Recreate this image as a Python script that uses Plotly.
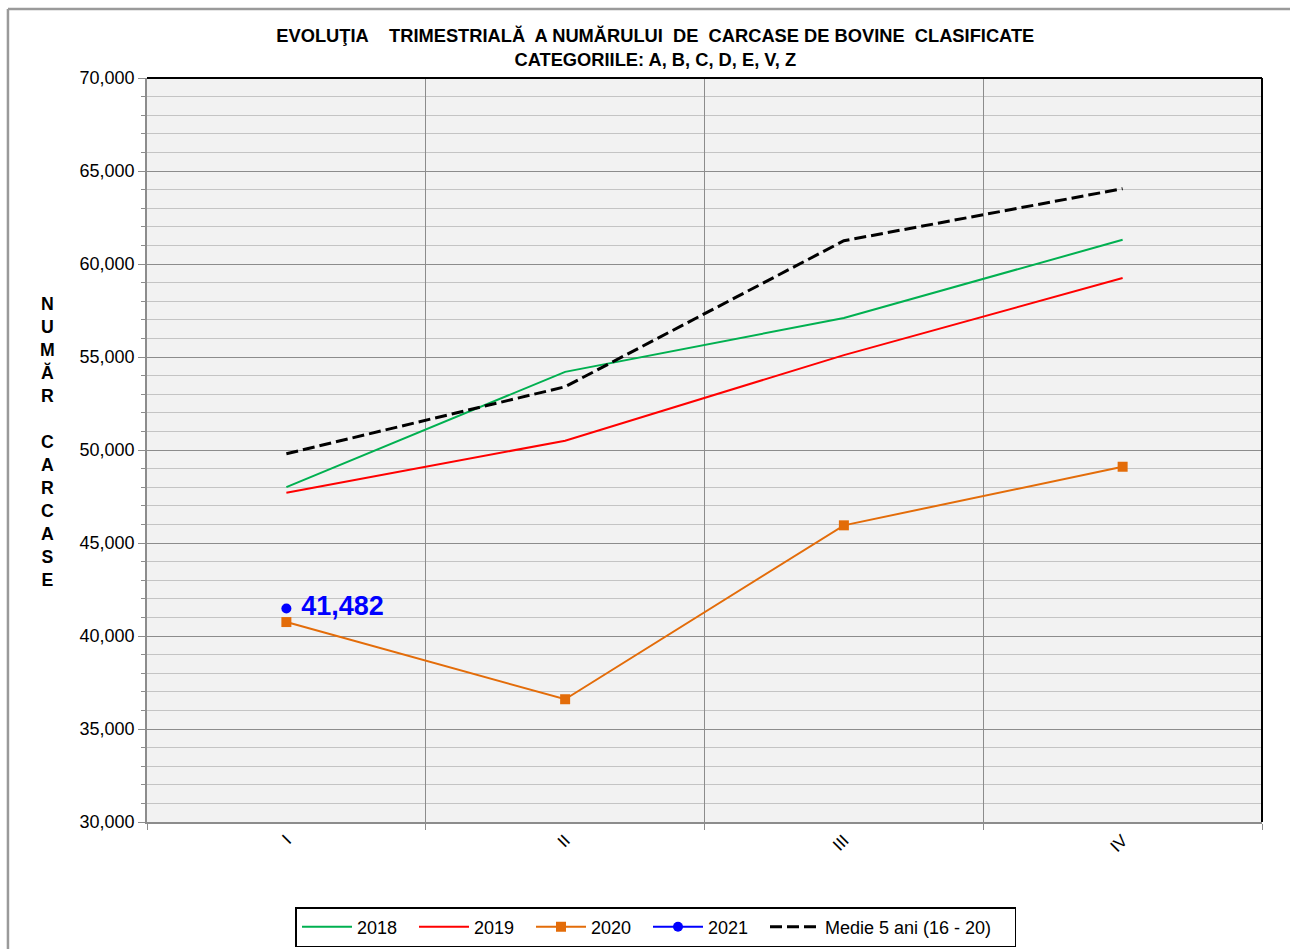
import plotly.graph_objects as go

quarters = ["I", "II", "III", "IV"]
s2018 = [48000, 54200, 57100, 61300]
s2019 = [47700, 50500, 55100, 59250]
s2020 = [40750, 36600, 45950, 49100]
s2021 = [41482]
medie = [49800, 53400, 61250, 64050]

FONT = "Liberation Sans, Arial, sans-serif"

fig = go.Figure()
fig.add_trace(go.Scatter(x=quarters, y=s2018, name="2018", mode="lines", legendwidth=52,
                         line=dict(color="#00B050", width=2)))
fig.add_trace(go.Scatter(x=quarters, y=s2019, name="2019", mode="lines", legendwidth=52,
                         line=dict(color="#FF0000", width=2)))
fig.add_trace(go.Scatter(x=quarters, y=s2020, name="2020", mode="lines+markers", legendwidth=52,
                         line=dict(color="#E36C09", width=2),
                         marker=dict(symbol="square", size=10, color="#E36C09")))
fig.add_trace(go.Scatter(x=quarters[:1], y=s2021, name="2021", mode="lines+markers+text",
                         legendwidth=52,
                         line=dict(color="#0000FF", width=2),
                         marker=dict(symbol="circle", size=10, color="#0000FF"),
                         texttemplate="\u00a0%{y:,}", textposition="middle right",
                         textfont=dict(color="#0000FF", size=27, family=FONT, weight="bold")))
fig.add_trace(go.Scatter(x=quarters, y=medie, name="Medie 5 ani (16 - 20)", mode="lines",
                         legendwidth=185,
                         line=dict(color="#000000", width=3, dash="12px,5px")))

fig.update_layout(
    width=1290, height=949,
    margin=dict(l=147, r=28, t=78, b=127),
    paper_bgcolor="white", plot_bgcolor="#F2F2F2",
    font=dict(family=FONT, size=18, color="#000000"),
    title=dict(text="<b>EVOLUŢIA\u00a0\u00a0\u00a0 TRIMESTRIALĂ\u00a0 A NUMĂRULUI\u00a0 DE\u00a0 CARCASE DE BOVINE\u00a0 CLASIFICATE<br>CATEGORIILE: A, B, C, D, E, V, Z</b>",
               x=0.508, xanchor="center", y=0.956, yanchor="top",
               font=dict(size=18.3, family=FONT, color="#000000")),
    showlegend=True,
    legend=dict(orientation="h", x=0.4565, xanchor="center",
                yref="container", y=0.002, yanchor="bottom",
                bordercolor="#000000", borderwidth=1.5, bgcolor="white",
                itemwidth=50,
                font=dict(size=18, family=FONT), traceorder="normal"),
)

fig.update_xaxes(
    type="category", range=[-0.5, 3.5], tickson="boundaries",
    showgrid=True, gridcolor="#8C8C8C", gridwidth=1.2,
    showline=True, linecolor="#8C8C8C", linewidth=1.5,
    ticks="outside", ticklen=6, tickcolor="#8C8C8C",
    tickangle=-45, tickfont=dict(size=17), zeroline=False,
)
fig.update_yaxes(
    range=[30000, 70000], dtick=5000, tick0=30000, tickformat=",",
    showgrid=True, gridcolor="#8C8C8C", gridwidth=1.2,
    showline=True, linecolor="#8C8C8C", linewidth=1.5,
    ticks="outside", ticklen=7, tickcolor="#8C8C8C",
    tickfont=dict(size=18), zeroline=False,
    minor=dict(dtick=1000, showgrid=True, gridcolor="#C4C4C4", gridwidth=1.2,
               ticks="outside", ticklen=4, tickcolor="#8C8C8C"),
)

# top and right black plot borders
fig.add_shape(type="line", xref="paper", yref="paper", x0=0, x1=1, y0=1, y1=1,
              line=dict(color="#000000", width=2))
fig.add_shape(type="line", xref="paper", yref="paper", x0=1, x1=1, y0=0, y1=1,
              line=dict(color="#000000", width=2))
# outer chart frame (left and top edges visible)
fig.add_shape(type="line", xref="paper", yref="paper", x0=-0.1247, x1=1.05, y0=1.0927, y1=1.0927,
              line=dict(color="#9A9A9A", width=2.5))
fig.add_shape(type="line", xref="paper", yref="paper", x0=-0.1247, x1=-0.1247, y0=-0.2, y1=1.0927,
              line=dict(color="#9A9A9A", width=2.5))

fig.add_annotation(
    text="<br>".join(list("NUMĂR") + ["\u00a0"] + list("CARCASE")),
    xref="paper", yref="paper", x=-0.0888, y=0.511, xanchor="center", yanchor="middle",
    showarrow=False, font=dict(size=17.7, family=FONT, weight="bold", color="#000000"),
)

fig.write_html("out.html", config={"displayModeBar": False},
               post_script="document.body.style.margin='0px';document.body.style.overflow='hidden';")
